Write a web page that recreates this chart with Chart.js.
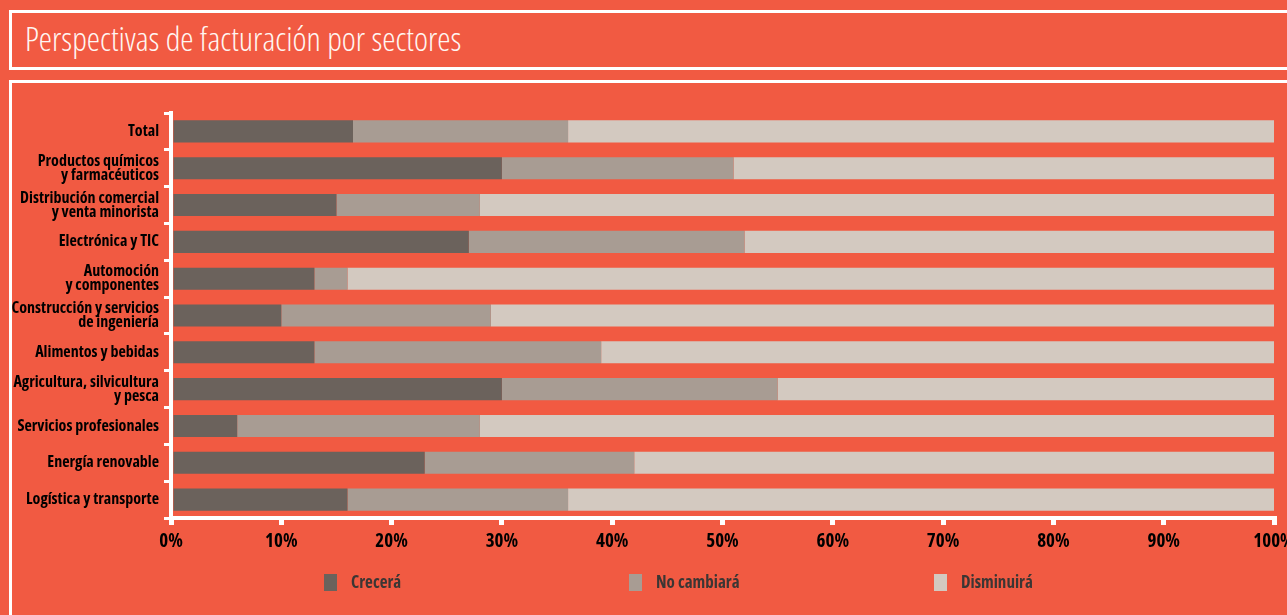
<!DOCTYPE html>
<html>
<head>
<meta charset="utf-8">
<script src="https://cdn.jsdelivr.net/npm/chart.js@4/dist/chart.umd.min.js"></script>
<style>
  html, body { margin:0; padding:0; background:#F15A42; width:1287px; height:615px; overflow:hidden; }
  #titleBox { position:absolute; left:9px; top:10px; width:1300px; height:54px; border:3px solid #fff; border-right:none; box-sizing:content-box; }
  #titleText { position:absolute; left:13px; top:5px; color:#fff6f2; font-family:'Open Sans', sans-serif; font-weight:300; font-stretch:75%; font-size:33.5px; line-height:40px; white-space:nowrap; }
  #bodyBox { position:absolute; left:9px; top:80px; width:1300px; height:600px; border-top:3px solid #fff; border-left:3px solid #fff; }
  canvas { position:absolute; left:0; top:0; }
</style>
</head>
<body>
<div id="titleBox"><div id="titleText">Perspectivas de facturación por sectores</div></div>
<div id="bodyBox"></div>
<canvas id="c" width="1287" height="615"></canvas>
<script>
const categories = [
  ["Total"],
  ["Productos químicos", "y farmacéuticos"],
  ["Distribución comercial", "y venta minorista"],
  ["Electrónica y TIC"],
  ["Automoción", "y componentes"],
  ["Construcción y servicios", "de ingeniería"],
  ["Alimentos y bebidas"],
  ["Agricultura, silvicultura", "y pesca"],
  ["Servicios profesionales"],
  ["Energía renovable"],
  ["Logística y transporte"]
];
const seriesNames = ["Crecerá", "No cambiará", "Disminuirá"];
const crecera     = [16.5, 30, 15, 27, 13, 10, 13, 30,  6, 23, 16];
const noCambiara  = [19.5, 21, 13, 25,  3, 19, 26, 25, 22, 19, 20];
const disminuira  = [64,   49, 72, 48, 84, 71, 61, 45, 72, 58, 64];
const xTickValues = [0, 10, 20, 30, 40, 50, 60, 70, 80, 90, 100];

const colors = ["#6B625C", "#A89C93", "#D3C9C0"];
const family = "'Open Sans', sans-serif";

const legendPlugin = {
  id: 'customLegend',
  afterDraw(chart) {
    const ctx = chart.ctx;
    const area = chart.chartArea;
    ctx.save();
    chart.data.datasets.forEach((ds, i) => {
      const x = area.left + 153 + i * 305;
      const y = 574;
      ctx.fillStyle = ds.backgroundColor;
      ctx.fillRect(x, y, 13, 17);
      ctx.fillStyle = "#3b3634";
      ctx.font = "condensed bold 17px " + family;
      ctx.textBaseline = "middle";
      ctx.textAlign = "left";
      ctx.fillText(ds.label, x + 27, y + 9);
    });
    ctx.restore();
  }
};

new Chart(document.getElementById('c'), {
  type: 'bar',
  data: {
    labels: categories,
    datasets: [
      { label: seriesNames[0], data: crecera, backgroundColor: colors[0] },
      { label: seriesNames[1], data: noCambiara, backgroundColor: colors[1] },
      { label: seriesNames[2], data: disminuira, backgroundColor: colors[2] }
    ]
  },
  options: {
    indexAxis: 'y',
    responsive: false,
    animation: false,
    barPercentage: 0.6,
    categoryPercentage: 1.0,
    layout: { padding: { top: 113, right: 13, bottom: 0, left: 0 } },
    plugins: { legend: { display: false }, tooltip: { enabled: false } },
    scales: {
      x: {
        stacked: true,
        min: 0, max: 100,
        afterBuildTicks(scale) { scale.ticks = xTickValues.map(v => ({ value: v })); },
        afterFit(scale) { scale.height = 97; scale.paddingLeft = 0; scale.paddingRight = 0; },
        border: { display: true, color: '#fff', width: 4 },
        grid: { drawOnChartArea: false, drawTicks: true, tickLength: 7, lineWidth: 5, color: '#fff' },
        ticks: {
          color: '#000',
          padding: 5,
          maxRotation: 0,
          font: { family: family, weight: 'condensed bold', size: 19 },
          callback: v => v + '%'
        }
      },
      y: {
        stacked: true,
        afterFit(scale) { scale.width = 171; },
        border: { display: true, color: '#fff', width: 4 },
        grid: { drawOnChartArea: false, drawTicks: true, tickLength: 7, lineWidth: 3, color: '#fff', offset: true },
        ticks: {
          color: '#000',
          padding: 5,
          font: { family: family, weight: 'condensed bold', size: 16, lineHeight: 0.88 }
        }
      }
    }
  },
  plugins: [legendPlugin]
});
</script>
</body>
</html>
